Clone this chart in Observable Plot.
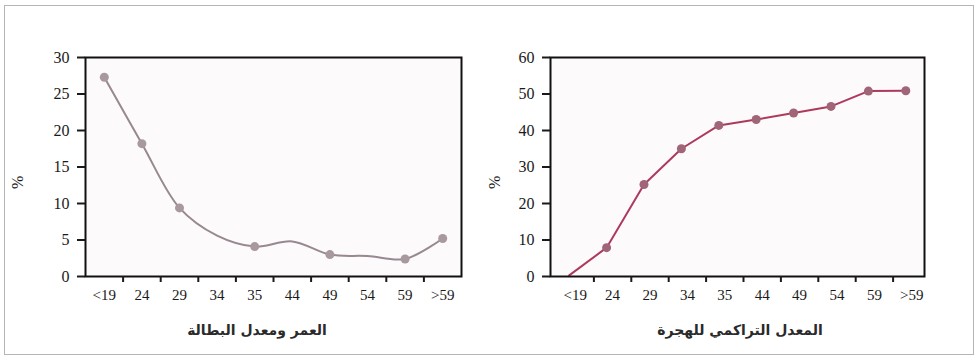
<!DOCTYPE html>
<html><head><meta charset="utf-8">
<script src="https://cdn.jsdelivr.net/npm/d3@7"></script>
<script src="https://cdn.jsdelivr.net/npm/@observablehq/plot@0.6"></script>
<style>
body{margin:0;background:#fff;width:979px;height:362px;position:relative;overflow:hidden;font-family:"Liberation Serif",serif}
#frame{position:absolute;left:4px;top:5px;width:970px;height:350px;border:1.5px solid #b5b5b5;box-sizing:border-box}
.panel{position:absolute;top:40px}
.panel svg{overflow:visible}
.title{position:absolute;top:321px;font-family:"DejaVu Sans",sans-serif;font-weight:bold;font-size:14px;color:#2a2a2a;direction:rtl;text-align:center;width:300px;line-height:18px}
</style></head><body>
<div id="frame"></div>
<div id="left" class="panel" style="left:0"></div>
<div id="right" class="panel" style="left:478px"></div>
<div class="title" style="left:107px">العمر ومعدل البطالة</div>
<div class="title" style="left:590px">المعدل التراكمي للهجرة</div>
<script>
const ageGroups = ["<19","24","29","34","35","44","49","54","59",">59"];
const unemployment = [27.3,18.2,9.4,5.6,4.1,4.8,3.0,2.8,2.4,5.2];
const unemploymentMarked = ["<19","24","29","35","49","59",">59"];
const migration = [0.3,7.9,25.2,35.0,41.4,43.0,44.8,46.6,50.8,50.9];
const migrationMarked = ["24","29","34","35","44","49","54","59",">59"];
const yLabel = "%";

function panel({values, marked, yMax, yStep, color, markColor, curve, width, ml, mr, dx, pctDx}) {
  const rows = ageGroups.map((g, i) => ({i, g, v: values[i]}));
  const idx = ageGroups.map((g, i) => i);
  return Plot.plot({
    width, height: 270, marginLeft: ml, marginRight: mr, marginTop: 17, marginBottom: 34,
    style: {fontFamily: "'Liberation Serif', serif", fontSize: "15px", color: "#1a1a1a", background: "transparent", overflow: "visible"},
    x: {domain: [-0.5, ageGroups.length - 0.5]},
    y: {domain: [0, yMax]},
    marks: [
      Plot.frame({fill: "#fdfafb", stroke: null}),
      Plot.line(rows, {x: "i", y: "v", stroke: color, strokeWidth: 2, curve}),
      Plot.dot(rows.filter(d => marked.includes(d.g)), {x: "i", y: "v", r: 4.5, fill: markColor, stroke: null}),
      Plot.frame({stroke: "#111", strokeWidth: 2}),
      Plot.axisY(d3.range(0, yMax + yStep, yStep), {tickSize: 8, tickPadding: 8, strokeWidth: 2, fontSize: 16, label: null}),
      Plot.axisX(idx.slice(1).map(i => i - 0.5), {tickSize: 6, strokeWidth: 2, tickFormat: () => "", label: null, dx}),
      Plot.axisX(idx, {tickSize: 0, tickPadding: 13, tickFormat: i => ageGroups[i], label: null, dx}),
      Plot.text([yLabel], {frameAnchor: "left", dx: pctDx, dy: 22, rotate: -90, fontSize: 16})
    ]
  });
}

document.getElementById("left").append(panel({
  values: unemployment, marked: unemploymentMarked, yMax: 30, yStep: 5,
  color: "#978891", markColor: "#a8999f", curve: "catmull-rom",
  width: 490, ml: 85, mr: 29, dx: 0, pctDx: -68
}));
document.getElementById("right").append(panel({
  values: migration, marked: migrationMarked, yMax: 60, yStep: 10,
  color: "#ad3a5c", markColor: "#a06577", curve: "linear",
  width: 501, ml: 72, mr: 55, dx: 6, pctDx: -56
}));
</script>
</body></html>
